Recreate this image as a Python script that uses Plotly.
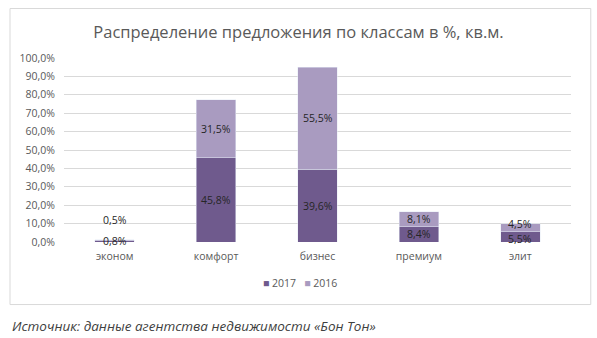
import plotly.graph_objects as go

categories = ["эконом", "комфорт", "бизнес", "премиум", "элит"]
v2017 = [0.8, 45.8, 39.6, 8.4, 5.5]
v2016 = [0.5, 31.5, 55.5, 8.1, 4.5]
yticks = [0, 10, 20, 30, 40, 50, 60, 70, 80, 90, 100]
series_names = ["2017", "2016"]
label_shift_2017 = [0, 0, 0, 0, -2]
label_shift_2016 = [20, 0, 0, 0, 4]

c2017 = "#6F5A8D"
c2016 = "#A99BC0"
font = "Open Sans"

fig = go.Figure()
fig.add_trace(go.Bar(name=series_names[0], x=categories, y=v2017, marker_color=c2017,
                     hoverinfo="skip", showlegend=False))
fig.add_trace(go.Bar(name=series_names[1], x=categories, y=v2016, marker_color=c2016,
                     hoverinfo="skip", showlegend=False))

def fmt(v):
    return f"{v:.1f}".replace(".", ",") + "%"

ann = []
for i, c in enumerate(categories):
    ann.append(dict(x=c, y=v2017[i] / 2, text=fmt(v2017[i]), showarrow=False,
                    yshift=label_shift_2017[i],
                    xref="x", yref="y", font=dict(size=10.5, color="#262626", family=font)))
    ann.append(dict(x=c, y=v2017[i] + v2016[i] / 2, text=fmt(v2016[i]), showarrow=False,
                    yshift=label_shift_2016[i],
                    xref="x", yref="y", font=dict(size=10.5, color="#262626", family=font)))

legend_text = (f"<span style='color:{c2017}'>■</span> {series_names[0]}"
               f"&nbsp;&nbsp;&nbsp;<span style='color:{c2016}'>■</span> {series_names[1]}")
ann.append(dict(x=0.465, y=-0.225, xref="paper", yref="paper", xanchor="center", yanchor="middle",
                text=legend_text, showarrow=False,
                font=dict(size=10.5, color="#595959", family=font)))

ann.append(dict(x=-0.107, y=-0.455, xref="paper", yref="paper", xanchor="left", yanchor="middle",
                text="<i>Источник: данные агентства недвижимости «Бон Тон»</i>", showarrow=False,
                font=dict(size=13.5, color="#3F3F3F", family=font)))

fig.update_layout(
    width=597, height=338,
    margin=dict(l=64, r=26, t=58, b=96),
    barmode="stack", bargap=0.61,
    paper_bgcolor="white", plot_bgcolor="white",
    separators=", ",
    showlegend=False,
    font=dict(family=font, color="#595959", size=10),
    title=dict(text="Распределение предложения по классам в %, кв.м.",
               x=0.5, xanchor="center", y=1 - 32 / 338, yanchor="middle", yref="container",
               font=dict(size=16.5, color="#595959", family=font)),
    xaxis=dict(showgrid=False, showline=False, zeroline=False, ticks="",
               ticklabelstandoff=6,
               tickfont=dict(size=10.5, color="#595959")),
    yaxis=dict(range=[0, 100], tickvals=yticks,
               ticktext=[fmt(t) for t in yticks],
               showgrid=True, gridcolor="#D9D9D9", gridwidth=1, zeroline=False,
               showline=False, ticks="", ticklabelstandoff=8,
               tickfont=dict(size=10.5, color="#595959")),
    annotations=ann,
    shapes=[dict(type="rect", xref="paper", yref="paper", x0=-0.1065, x1=1.039,
                 y0=-0.340, y1=1.269, line=dict(color="#D9D9D9", width=1),
                 fillcolor="rgba(0,0,0,0)", layer="below")],
)

fig.write_html("out.html")
